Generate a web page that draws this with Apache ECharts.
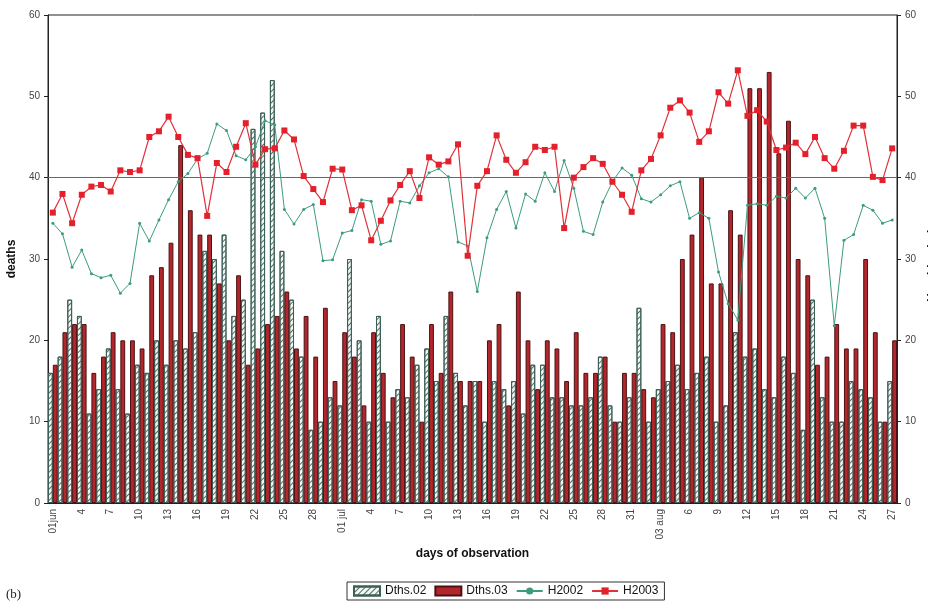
<!DOCTYPE html>
<html>
<head>
<meta charset="utf-8">
<script src="https://cdn.jsdelivr.net/npm/echarts@6/dist/echarts.min.js"></script>
<style>
  html, body { margin: 0; padding: 0; background: #fff; }
  #chart { width: 928px; height: 603px; }
</style>
</head>
<body>
<div id="chart"></div>
<script>
// Day labels, 1 June to 27 August (88 days)
const days = [
  '01jun','2','3','4','5','6','7','8','9','10','11','12','13','14','15','16','17','18','19','20',
  '21','22','23','24','25','26','27','28','29','30',
  '01 jul','2','3','4','5','6','7','8','9','10','11','12','13','14','15','16','17','18','19','20',
  '21','22','23','24','25','26','27','28','29','30','31',
  '1','2','03 aug','4','5','6','7','8','9','10','11','12','13','14','15','16','17','18','19','20',
  '21','22','23','24','25','26','27'
];

// Daily deaths, summer 2002
const deaths2002 = [
  16,18,25,23,11,14,19,14,11,17,16,20,17,20,19,21,31,30,33,23,
  25,46,48,52,31,25,18,9,10,13,
  12,30,20,10,23,10,14,13,17,19,15,23,16,12,15,10,15,14,15,11,
  17,17,13,13,12,12,13,18,12,10,13,
  24,10,14,15,17,14,16,18,10,12,21,18,19,14,13,18,16,9,25,13,
  10,10,15,14,13,10,15
];

// Daily deaths, summer 2003
const deaths2003 = [
  17,21,22,22,16,18,21,20,20,19,28,29,32,44,36,33,33,27,20,28,
  17,19,22,23,26,19,23,18,24,15,
  21,18,12,21,16,13,22,18,10,22,16,26,15,15,15,20,22,12,26,20,
  14,20,19,15,21,16,16,18,10,16,16,
  14,13,22,21,30,33,40,27,27,36,33,51,51,53,43,47,30,28,17,18,
  22,19,19,30,21,10,20
];

// Humidex index, 2002
const humidex2002 = [
  34.4,33.1,29.0,31.1,28.2,27.7,28.0,25.8,27.0,34.4,32.2,34.8,37.3,39.5,40.5,42.3,43.0,46.6,45.8,42.7,
  42.2,43.8,47.0,46.5,36.1,34.3,36.1,36.7,29.8,29.9,
  33.2,33.5,37.3,37.1,31.8,32.2,37.1,36.9,39.0,40.6,41.1,40.1,32.1,31.6,26.0,32.6,36.1,38.3,33.8,38.0,
  37.1,40.6,38.3,42.1,38.7,33.4,33.0,37.0,39.5,41.2,40.3,
  37.4,37.0,37.9,39.0,39.5,35.0,35.7,35.0,28.4,24.5,22.5,36.6,36.8,36.6,37.7,37.5,38.7,37.5,38.7,35.0,
  21.8,32.3,33.0,36.6,36.0,34.4,34.8
];

// Humidex index, 2003
const humidex2003 = [
  35.7,38.0,34.4,37.9,38.9,39.1,38.3,40.9,40.7,40.9,45.0,45.7,47.5,45.0,42.8,42.4,35.3,41.8,40.7,43.8,
  46.7,41.6,43.5,43.6,45.8,44.7,40.2,38.6,37.0,41.1,
  41.0,36.0,36.6,32.3,34.7,37.2,39.1,40.8,37.5,42.5,41.6,42.0,44.1,30.4,39.0,40.8,45.2,42.2,40.6,41.9,
  43.8,43.4,43.8,33.8,40.0,41.3,42.4,41.7,39.5,37.9,35.8,
  40.9,42.3,45.2,48.6,49.5,48.0,44.4,45.7,50.5,49.1,53.2,47.6,48.3,46.9,43.4,43.7,44.3,42.9,45.0,42.4,
  41.1,43.3,46.4,46.4,40.1,39.7,43.6
];

// Humidex discomfort threshold
const threshold = 40;

const axisText = { fontFamily: 'Liberation Sans', fontSize: 10, color: '#444' };
const titleText = { fontFamily: 'Liberation Sans', fontSize: 12, fontWeight: 'bold', color: '#111' };

const chart = echarts.init(document.getElementById('chart'), null, { renderer: 'canvas' });

chart.setOption({
  animation: false,
  backgroundColor: '#fff',
  textStyle: { fontFamily: 'Liberation Sans' },
  grid: {
    left: 48, right: 31, top: 15, bottom: 100,
    outerBoundsMode: 'none',
    containLabel: false,
    show: true, borderColor: '#222', borderWidth: 1
  },
  graphic: [{
    type: 'text', left: 6, top: 588,
    style: { text: '(b)', font: '13px "Liberation Serif"', fill: '#222' }
  }],
  legend: {
    left: 347, bottom: 3,
    itemGap: 8, itemWidth: 26, itemHeight: 9,
    padding: [3, 6, 3, 6],
    borderColor: '#333', borderWidth: 1, borderRadius: 0,
    textStyle: { fontFamily: 'Liberation Sans', fontSize: 12, color: '#111' },
    data: [
      { name: 'Dths.02', icon: 'rect' },
      { name: 'Dths.03', icon: 'rect' },
      { name: 'H2002' },
      { name: 'H2003' }
    ]
  },
  xAxis: {
    type: 'category',
    data: days,
    name: 'days of observation',
    nameLocation: 'middle',
    nameGap: 44,
    nameTextStyle: titleText,
    axisLine: { lineStyle: { color: '#222' } },
    axisTick: { interval: 2, length: 4, lineStyle: { color: '#222' } },
    axisLabel: Object.assign({ interval: 2, rotate: 90, margin: 6 }, axisText),
    splitLine: { show: false }
  },
  yAxis: [{
    type: 'value', min: 0, max: 60, interval: 10,
    name: 'deaths', nameLocation: 'middle', nameGap: 30,
    nameTextStyle: titleText,
    axisLine: { show: true, lineStyle: { color: '#222' } },
    axisTick: { show: true, length: 4, lineStyle: { color: '#222' } },
    axisLabel: Object.assign({ margin: 8 }, axisText),
    splitLine: { show: false }
  }, {
    type: 'value', min: 0, max: 60, interval: 10, position: 'right',
    name: 'Humidex Index', nameLocation: 'middle', nameGap: 26,
    nameTextStyle: titleText,
    axisLine: { show: true, lineStyle: { color: '#222' } },
    axisTick: { show: true, length: 4, lineStyle: { color: '#222' } },
    axisLabel: Object.assign({ margin: 8 }, axisText),
    splitLine: { show: false }
  }],
  series: [{
    name: 'Dths.02',
    type: 'bar',
    data: deaths2002,
    barGap: '0%',
    barCategoryGap: '0%',
    itemStyle: {
      color: '#f2f7f1',
      borderColor: '#3d5e57',
      borderWidth: 1,
      decal: {
        symbol: 'rect',
        symbolSize: 1,
        dashArrayX: [1, 0],
        dashArrayY: [1, 2.5],
        rotation: -Math.PI / 4,
        color: '#4b6e66'
      }
    }
  }, {
    name: 'Dths.03',
    type: 'bar',
    data: deaths2003,
    barGap: '0%',
    barCategoryGap: '0%',
    itemStyle: { color: '#b3262b', borderColor: '#4a1214', borderWidth: 1 }
  }, {
    name: 'H2002',
    type: 'line',
    yAxisIndex: 1,
    data: humidex2002,
    z: 5,
    symbol: 'circle',
    symbolSize: 3,
    lineStyle: { color: '#3d9c80', width: 1 },
    itemStyle: { color: '#3d9c80' }
  }, {
    name: 'H2003',
    type: 'line',
    yAxisIndex: 1,
    data: humidex2003,
    z: 6,
    symbol: 'rect',
    symbolSize: 6,
    lineStyle: { color: '#e0303a', width: 1.2 },
    itemStyle: { color: '#e3202c' },
    markLine: {
      silent: true,
      symbol: 'none',
      label: { show: false },
      lineStyle: { color: '#c44040', width: 1, type: 'solid' },
      data: [{ yAxis: threshold }]
    }
  }]
});
</script>
</body>
</html>
